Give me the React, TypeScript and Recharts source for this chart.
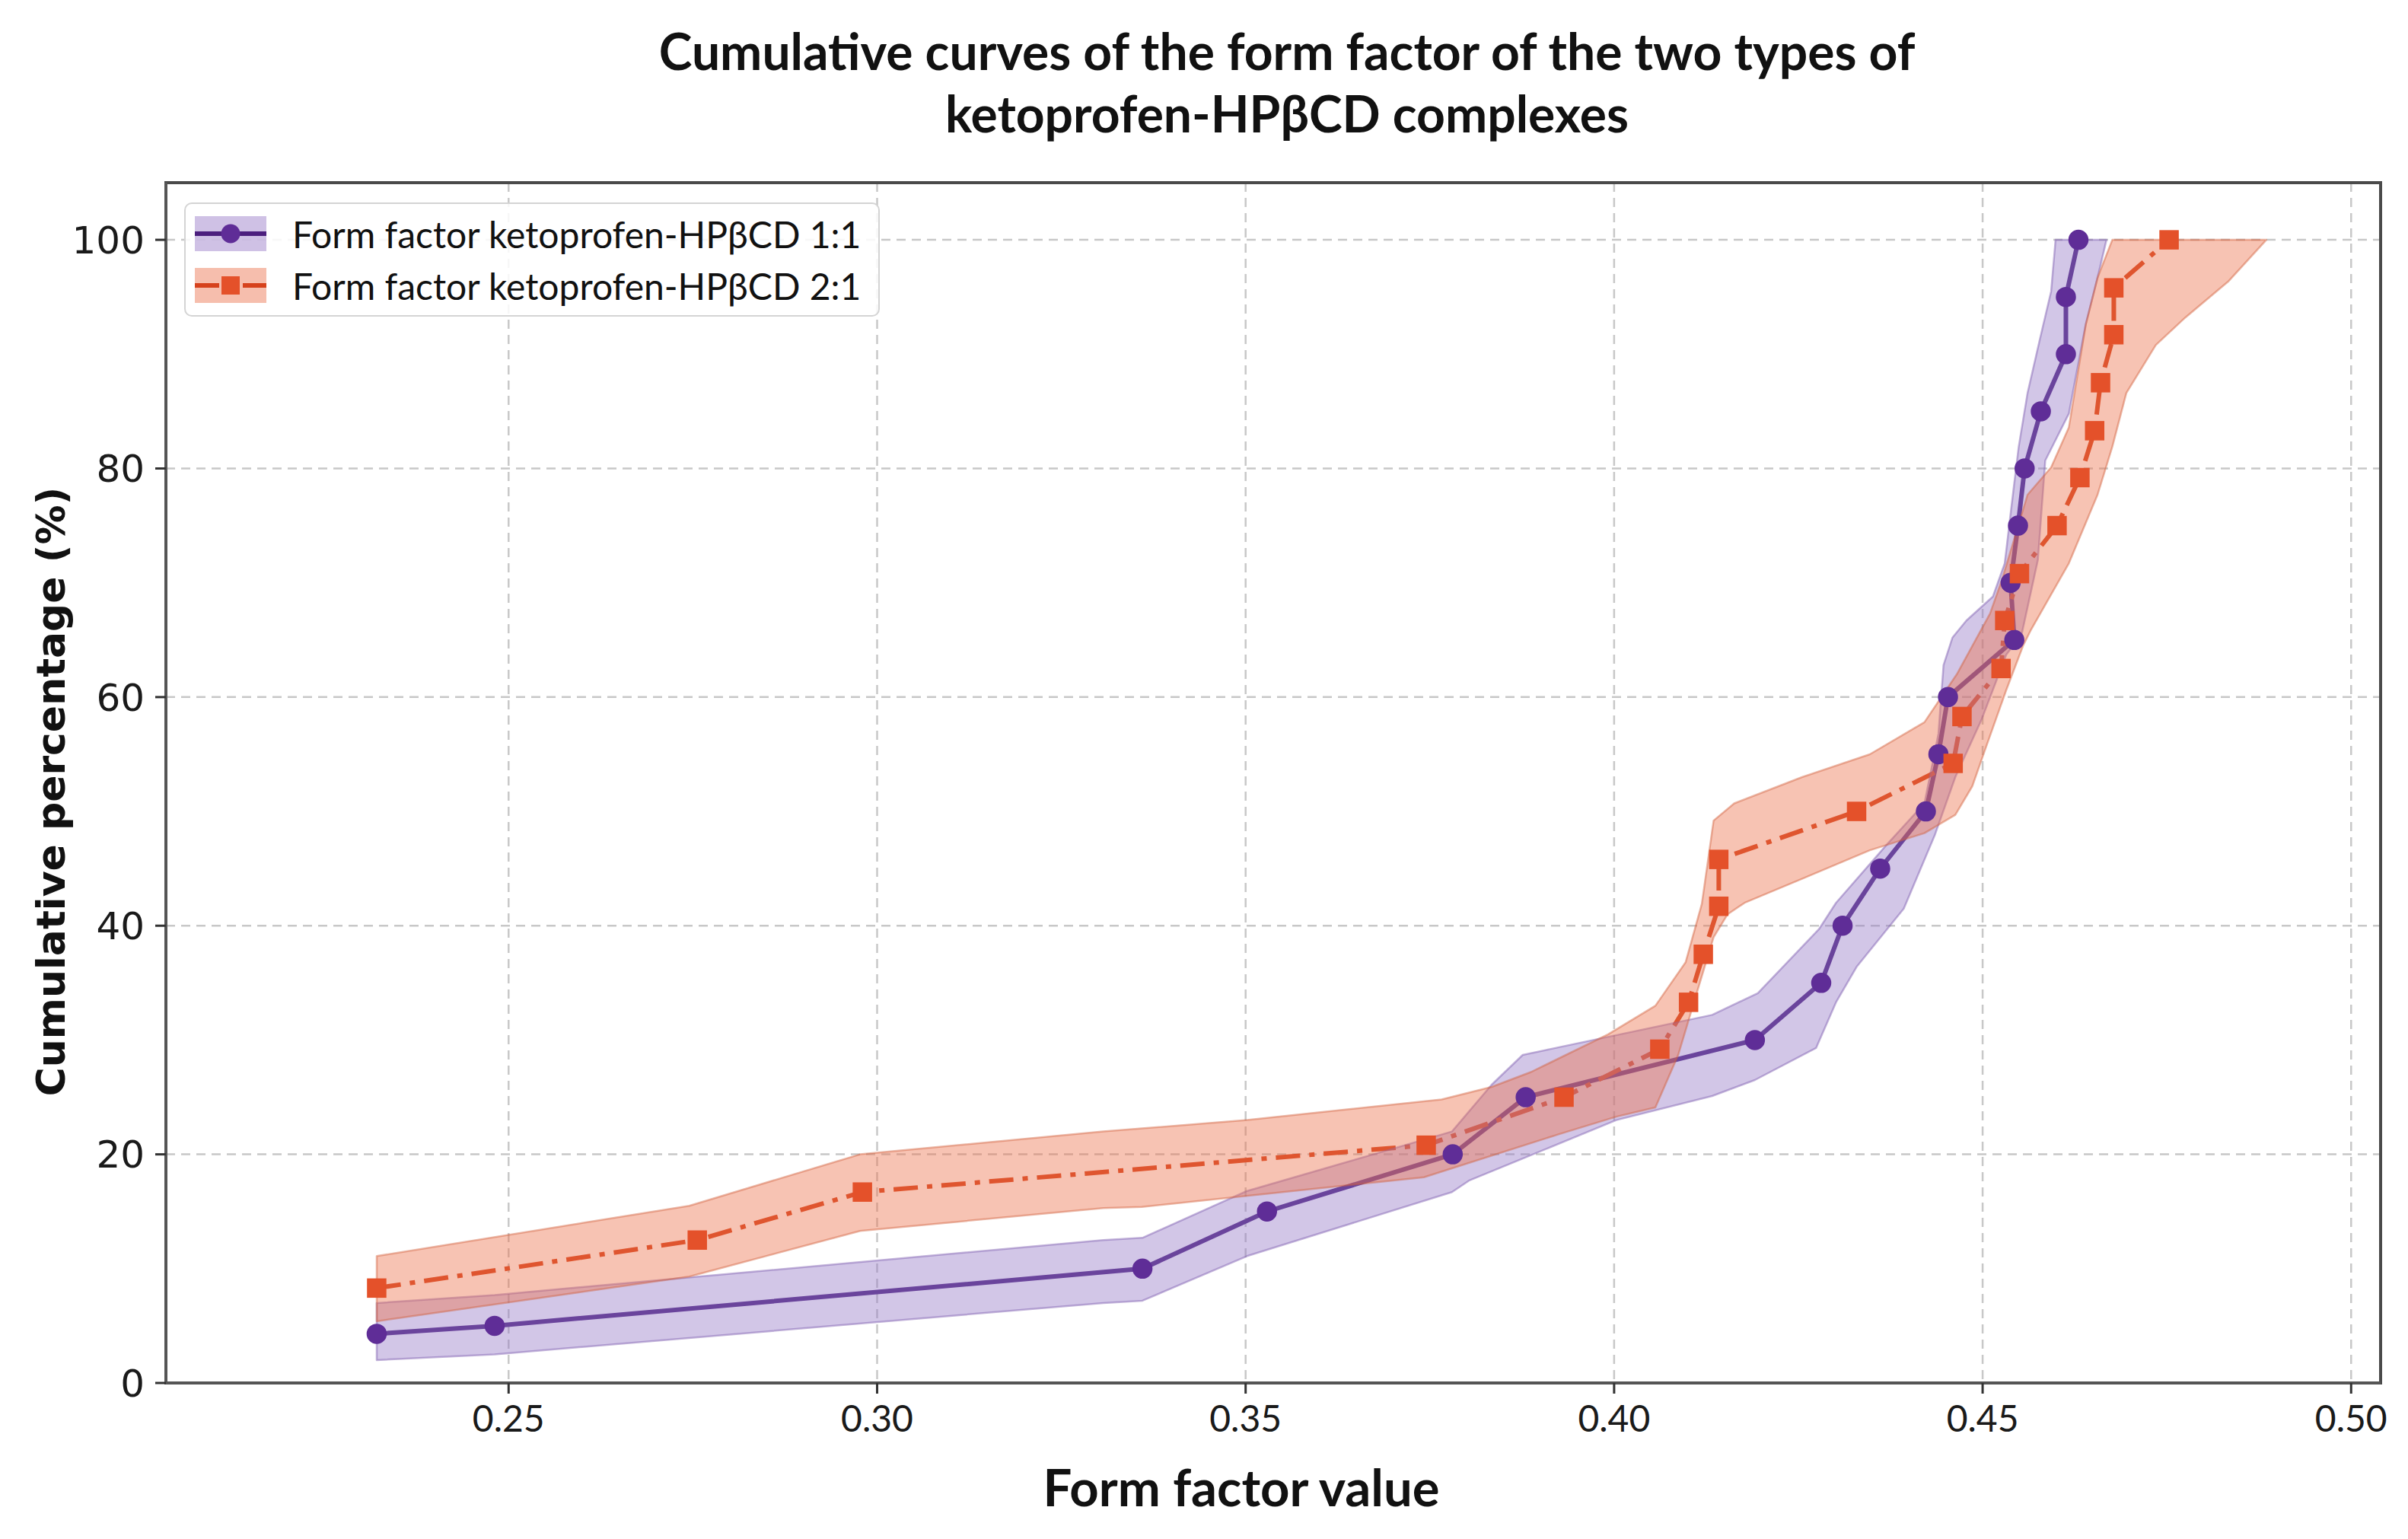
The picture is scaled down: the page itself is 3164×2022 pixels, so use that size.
import React from 'react';
import { ComposedChart, Line, Scatter, XAxis, YAxis, CartesianGrid, ReferenceArea } from 'recharts';

// ---------- data ----------
const xTicks = [0.25, 0.3, 0.35, 0.4, 0.45, 0.5];
const yTicks = [0, 20, 40, 60, 80, 100];

const seriesNames = ['Form factor ketoprofen-HPβCD 1:1', 'Form factor ketoprofen-HPβCD 2:1'];

// Form factor ketoprofen-HPβCD 1:1
const ff11X = [0.2321, 0.2481, 0.336, 0.3529, 0.3781, 0.388, 0.4191, 0.4281, 0.431, 0.4361, 0.4423, 0.444, 0.4453, 0.4543, 0.4538, 0.4548, 0.4557, 0.4579, 0.4613, 0.4613, 0.463];
const ff11Y = [4.3, 5, 10, 15, 20, 25, 30, 35, 40, 45, 50, 55, 60, 65, 70, 75, 80, 85, 90, 95, 100];

// Form factor ketoprofen-HPβCD 2:1
const ff21X = [0.2321, 0.2756, 0.298, 0.3745, 0.3932, 0.4062, 0.4101, 0.4121, 0.4142, 0.4142, 0.4329, 0.446, 0.4472, 0.4525, 0.453, 0.455, 0.4601, 0.4632, 0.4652, 0.466, 0.4678, 0.4678, 0.4753];
const ff21Y = [8.3, 12.5, 16.7, 20.8, 25, 29.2, 33.3, 37.5, 41.7, 45.8, 50, 54.2, 58.3, 62.5, 66.7, 70.8, 75, 79.2, 83.3, 87.5, 91.7, 95.8, 100];

// shaded bands: upper/left edge and lower/right edge, [x, y]
const band11Upper: [number, number][] = [
  [0.2321, 7.0], [0.2481, 7.7], [0.3307, 12.5], [0.336, 12.7], [0.3502, 16.8], [0.378, 22.0],
  [0.3834, 26.1], [0.3876, 28.7], [0.3913, 29.2], [0.4133, 32.2], [0.4195, 34.1], [0.4278, 39.7],
  [0.4301, 42.0], [0.437, 47.1], [0.4421, 50.7], [0.444, 56.8], [0.4447, 62.8], [0.4459, 65.2],
  [0.4478, 66.7], [0.4514, 68.8], [0.453, 71.7], [0.4541, 77.7], [0.4549, 81.9], [0.4561, 86.6],
  [0.4577, 91.1], [0.4593, 95.5], [0.4599, 100],
];
const band11Lower: [number, number][] = [
  [0.2321, 2.0], [0.2481, 2.5], [0.3307, 7.0], [0.336, 7.2], [0.3502, 11.1], [0.378, 16.7],
  [0.3803, 17.7], [0.4003, 23.0], [0.4133, 25.1], [0.4191, 26.5], [0.4274, 29.3], [0.4301, 33.3],
  [0.4329, 36.4], [0.4393, 41.5], [0.4435, 47.9], [0.4463, 53.0], [0.4499, 58.1], [0.4532, 63.7],
  [0.4553, 65.5], [0.4575, 72.0], [0.4585, 80.7], [0.4617, 84.8], [0.4624, 87.2], [0.464, 92.6],
  [0.4656, 96.7], [0.4668, 100],
];
const band21Upper: [number, number][] = [
  [0.2321, 11.1], [0.2745, 15.5], [0.2977, 20.0], [0.3307, 22.0], [0.3502, 23.0], [0.3766, 24.8],
  [0.3834, 25.9], [0.3887, 27.2], [0.3992, 30.5], [0.4056, 33.0], [0.4097, 36.8], [0.4119, 41.9],
  [0.4135, 49.2], [0.4163, 50.7], [0.4255, 53.0], [0.4347, 55.0], [0.4421, 57.8], [0.4465, 62.0],
  [0.451, 67.3], [0.4526, 70.2], [0.4561, 77.7], [0.4593, 80.1], [0.4617, 83.6], [0.464, 92.6],
  [0.4656, 96.7], [0.4676, 100],
];
const band21Lower: [number, number][] = [
  [0.2321, 5.4], [0.2745, 9.3], [0.2977, 13.3], [0.3307, 15.3], [0.3359, 15.4], [0.3742, 18.0],
  [0.3927, 21.8], [0.4003, 23.3], [0.4056, 24.1], [0.4087, 28.7], [0.4113, 34.3], [0.4135, 39.0],
  [0.4154, 41.0], [0.4177, 42.0], [0.4255, 44.1], [0.4347, 46.6], [0.4421, 48.1], [0.4463, 49.7],
  [0.4486, 52.2], [0.4504, 55.5], [0.4532, 60.6], [0.4555, 64.5], [0.4565, 65.8], [0.4617, 71.7],
  [0.4656, 77.7], [0.4676, 81.9], [0.4695, 86.6], [0.4735, 90.8], [0.4775, 93.2], [0.4834, 96.4],
  [0.4885, 100],
];

// ---------- derived tables ----------
const toPts = (xs: number[], ys: number[]) => xs.map((x, i) => ({ x, y: ys[i] }));
const polygon = (upper: [number, number][], lower: [number, number][]) =>
  [...upper, ...[...lower].reverse()].map(([x, y]) => ({ x, y }));

const s11 = toPts(ff11X, ff11Y);
const s21 = toPts(ff21X, ff21Y);
const poly11 = polygon(band11Upper, band11Lower);
const poly21 = polygon(band21Upper, band21Lower);

// ---------- styles ----------
const PURPLE_LINE = '#4c1f7e';
const PURPLE_MARK = '#5f2d97';
const PURPLE_BAND = '#9476c6';
const ORANGE_LINE = '#d6421c';
const ORANGE_MARK = '#e4512a';
const ORANGE_BAND = '#eb6f4a';
const DASHDOT = '32 12 7 12';

const X_DOMAIN: [number, number] = [0.2035, 0.504];
const Y_DOMAIN: [number, number] = [0, 105];

const bandRenderer = (fill: string, stroke: string) => (props: any) => {
  const pts = (props.points || []).filter(
    (p: any) => p && Number.isFinite(p.x) && Number.isFinite(p.y)
  );
  if (!pts.length) return <g />;
  const d =
    pts.map((p: any, i: number) => `${i ? 'L' : 'M'}${p.x.toFixed(1)},${p.y.toFixed(1)}`).join(' ') + ' Z';
  return (
    <path
      d={d}
      fill={fill}
      fillOpacity={0.42}
      stroke={stroke}
      strokeOpacity={0.45}
      strokeWidth={2.5}
      strokeLinejoin="round"
    />
  );
};

const emptyShape = () => <g />;

const circleDot = (p: any) => (
  <circle key={`c-${p.index}`} cx={p.cx} cy={p.cy} r={12.5} fill={PURPLE_MARK} stroke={PURPLE_MARK} strokeWidth={1.5} />
);
const squareDot = (p: any) => (
  <rect key={`s-${p.index}`} x={p.cx - 12} y={p.cy - 12} width={24} height={24} fill={ORANGE_MARK} stroke={ORANGE_MARK} strokeWidth={1.5} />
);

const tickFontX = { fontSize: 48, fill: '#1a1a1a', fontFamily: 'Lato, "Open Sans", sans-serif' };
const tickFontY = { fontSize: 50, fill: '#1a1a1a', fontFamily: '"DejaVu Sans", sans-serif' };

const LegendHandle = ({ kind }: { kind: 0 | 1 }) => (
  <svg width={94} height={46} style={{ display: 'block' }}>
    <rect x={0} y={0} width={94} height={46} fill={kind === 0 ? PURPLE_BAND : ORANGE_BAND} fillOpacity={0.45} />
    <line
      x1={0}
      y1={23}
      x2={94}
      y2={23}
      stroke={kind === 0 ? PURPLE_LINE : ORANGE_LINE}
      strokeWidth={6}
      strokeDasharray={kind === 0 ? undefined : DASHDOT}
    />
    {kind === 0 ? (
      <circle cx={47} cy={23} r={12.5} fill={PURPLE_MARK} />
    ) : (
      <rect x={35} y={11} width={24} height={24} fill={ORANGE_MARK} />
    )}
  </svg>
);

export default function App() {
  return (
    <div style={{ position: 'absolute', left: 0, top: 0, width: 3164, height: 2022, background: '#ffffff', overflow: 'hidden' }}>
      <ComposedChart width={3164} height={2022} margin={{ top: 240, right: 36, bottom: 105, left: 18 }}>
        <CartesianGrid stroke="#c8c8c8" strokeDasharray="12 8" strokeWidth={2.5} />
        <XAxis
          type="number"
          dataKey="x"
          domain={X_DOMAIN}
          allowDataOverflow
          ticks={xTicks}
          tickFormatter={(v: number) => v.toFixed(2)}
          height={100}
          tick={tickFontX}
          tickSize={14}
          tickMargin={16}
          axisLine={{ stroke: '#555555', strokeWidth: 4 }}
          tickLine={{ stroke: '#333333', strokeWidth: 3 }}
        />
        <YAxis
          type="number"
          domain={Y_DOMAIN}
          allowDataOverflow
          ticks={yTicks}
          width={200}
          tick={tickFontY}
          tickSize={14}
          tickMargin={14}
          axisLine={{ stroke: '#555555', strokeWidth: 4 }}
          tickLine={{ stroke: '#333333', strokeWidth: 3 }}
        />
        <Scatter
          name="band11"
          data={poly11}
          dataKey="y"
          line={bandRenderer(PURPLE_BAND, '#7a58ad')}
          shape={emptyShape}
          isAnimationActive={false}
          legendType="none"
        />
        <Scatter
          name="band21"
          data={poly21}
          dataKey="y"
          line={bandRenderer(ORANGE_BAND, '#d0603c')}
          shape={emptyShape}
          isAnimationActive={false}
          legendType="none"
        />
        <Line
          name={seriesNames[0]}
          data={s11}
          dataKey="y"
          type="linear"
          stroke={PURPLE_LINE}
          strokeWidth={6}
          dot={circleDot}
          activeDot={false}
          isAnimationActive={false}
        />
        <Line
          name={seriesNames[1]}
          data={s21}
          dataKey="y"
          type="linear"
          stroke={ORANGE_LINE}
          strokeWidth={6}
          strokeDasharray={DASHDOT}
          dot={squareDot}
          activeDot={false}
          isAnimationActive={false}
        />
        <ReferenceArea
          x1={X_DOMAIN[0]}
          x2={X_DOMAIN[1]}
          y1={Y_DOMAIN[0]}
          y2={Y_DOMAIN[1]}
          fill="none"
          fillOpacity={0}
          stroke="#4a4a4a"
          strokeWidth={4}
          ifOverflow="visible"
        />
      </ComposedChart>

      {/* Title */}
      <div
        style={{
          position: 'absolute',
          left: 191,
          width: 3000,
          top: 26,
          textAlign: 'center',
          fontFamily: 'Lato, "Open Sans", sans-serif',
          fontWeight: 700,
          fontSize: 66,
          lineHeight: '82px',
          color: '#111',
        }}
      >
        <div>Cumulative curves of the form factor of the two types of</div>
        <div>ketoprofen-HPβCD complexes</div>
      </div>

      {/* Y axis label */}
      <div
        style={{
          position: 'absolute',
          left: 67 - 600,
          top: 1040 - 36,
          width: 1200,
          height: 72,
          lineHeight: '72px',
          textAlign: 'center',
          transform: 'rotate(-90deg)',
          fontFamily: '"DejaVu Sans", sans-serif',
          fontWeight: 700,
          fontSize: 52,
          color: '#111',
        }}
      >
        Cumulative percentage (%)
      </div>

      {/* X axis label */}
      <div
        style={{
          position: 'absolute',
          left: 1631 - 500,
          top: 1953 - 44,
          width: 1000,
          height: 88,
          lineHeight: '88px',
          textAlign: 'center',
          fontFamily: 'Lato, "Open Sans", sans-serif',
          fontWeight: 700,
          fontSize: 67,
          color: '#111',
        }}
      >
        Form factor value
      </div>

      {/* Legend */}
      <div
        style={{
          position: 'absolute',
          left: 242,
          top: 266,
          width: 914,
          height: 150,
          boxSizing: 'border-box',
          border: '2px solid #d4d4d4',
          borderRadius: 10,
          background: 'rgba(255,255,255,0.85)',
        }}
      >
        {seriesNames.map((name, i) => (
          <div
            key={name}
            style={{
              position: 'absolute',
              left: 12,
              top: i === 0 ? 14 : 82,
              height: 50,
              display: 'flex',
              alignItems: 'center',
            }}
          >
            <LegendHandle kind={i as 0 | 1} />
            <span
              style={{
                marginLeft: 34,
                fontFamily: 'Lato, "Open Sans", sans-serif',
                fontSize: 48,
                color: '#111',
                whiteSpace: 'nowrap',
              }}
            >
              {name}
            </span>
          </div>
        ))}
      </div>
    </div>
  );
}
